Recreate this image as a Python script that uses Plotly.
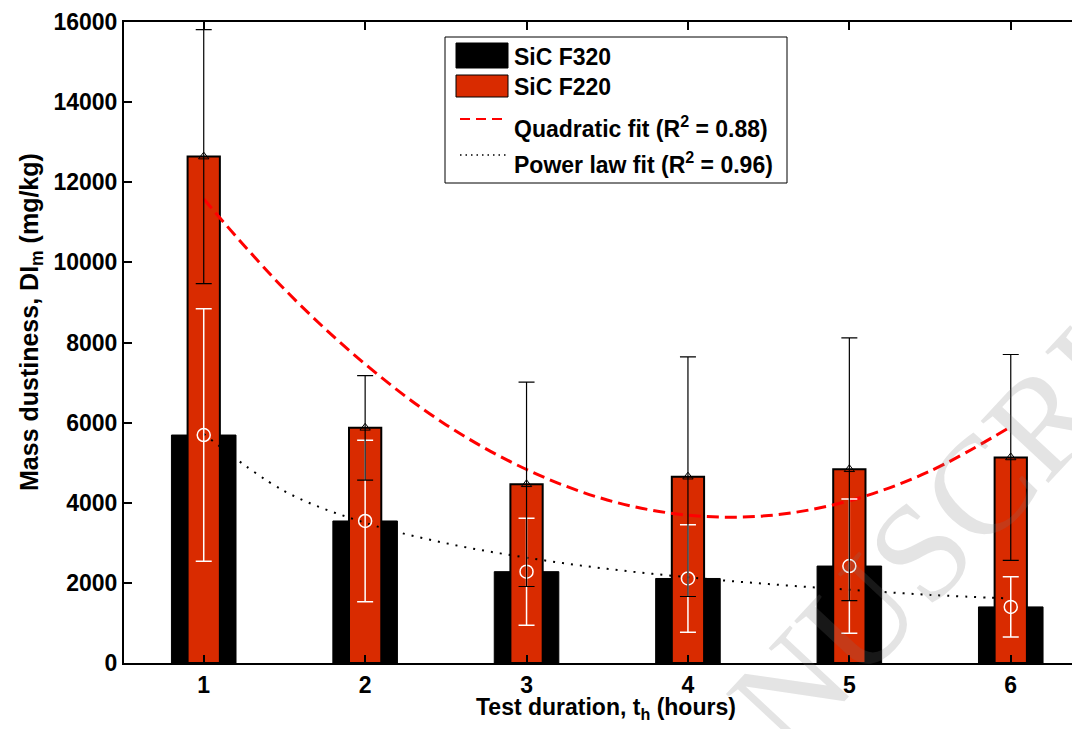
import plotly.graph_objects as go

# ---------------- data ----------------
hours = [1, 2, 3, 4, 5, 6]
f320 = [5690, 3545, 2280, 2110, 2420, 1400]
f320_err = [3150, 2015, 1335, 1340, 1675, 750]
f220 = [12640, 5870, 4460, 4650, 4835, 5130]
f220_err = [3170, 1305, 2550, 2990, 3280, 2570]

fit_x = [1, 1.5, 2, 2.5, 3, 3.5, 4, 4.5, 5, 5.5, 6]
quad_fit = [11580, 9330, 7460, 5950, 4830, 4070, 3690, 3680, 4050, 4790, 5900]
power_fit = [5720, 4290, 3500, 2990, 2630, 2350, 2140, 1970, 1830, 1700, 1610]

y_ticks = [0, 2000, 4000, 6000, 8000, 10000, 12000, 14000, 16000]
legend_labels = ["SiC F320", "SiC F220",
                 "Quadratic fit (R<sup>2</sup> = 0.88)",
                 "Power law fit (R<sup>2</sup> = 0.96)"]
x_title = "Test duration, t<sub>h</sub> (hours)"
y_title = "Mass dustiness, DI<sub>m</sub> (mg/kg)"

# ---------------- style ----------------
RED = "rgb(217,43,0)"
FONT = "Liberation Sans"
OFF = 8                      # browser body margin
W, H = 1072, 721             # figure reaches the window's right/bottom edges
PL, PT, PB_PAGE, PR_PAGE = 124, 22, 663, 1080   # plot area in page pixels
L, T = PL - OFF, PT - OFF
B = H - (PB_PAGE - OFF)
R = W - (PR_PAGE - OFF)
PW, PH = W - L - R, H - T - B


def px(x):
    return (x - PL) / PW


def py(y):
    return (PB_PAGE - y) / PH


fig = go.Figure()

fig.add_trace(go.Bar(x=hours, y=f320, width=0.4, marker=dict(color="black", line=dict(color="black", width=1)),
                     showlegend=False))
fig.add_trace(go.Bar(x=hours, y=f220, width=0.2, marker=dict(color=RED, line=dict(color="black", width=2)),
                     showlegend=False))

fig.add_trace(go.Scatter(x=fit_x, y=quad_fit, mode="lines",
                         line=dict(color="red", width=3, dash="12px,6px", shape="spline"), showlegend=False))
fig.add_trace(go.Scatter(x=fit_x, y=power_fit, mode="lines",
                         line=dict(color="black", width=2, dash="2px,7px", shape="spline"), showlegend=False))

fig.add_trace(go.Scatter(x=hours, y=f320, mode="markers",
                         marker=dict(symbol="circle-open", size=13, color="white", line=dict(width=1.5, color="white")),
                         error_y=dict(type="data", array=f320_err, color="white", thickness=1.5, width=8),
                         showlegend=False))
fig.add_trace(go.Scatter(x=hours, y=f220, mode="markers",
                         marker=dict(symbol="triangle-up-open", size=9, color="black", line=dict(width=1, color="black")),
                         error_y=dict(type="data", array=f220_err, color="black", thickness=1.2, width=8),
                         showlegend=False))

# ---------------- legend (drawn) ----------------
shapes = [
    dict(type="rect", xref="paper", yref="paper", x0=px(445), x1=px(787), y0=py(183), y1=py(37),
         line=dict(color="black", width=1), fillcolor="white", layer="above"),
    dict(type="rect", xref="paper", yref="paper", x0=px(456), x1=px(508), y0=py(68), y1=py(43),
         line=dict(color="black", width=1), fillcolor="black", layer="above"),
    dict(type="rect", xref="paper", yref="paper", x0=px(456), x1=px(508), y0=py(97), y1=py(75),
         line=dict(color="black", width=1), fillcolor=RED, layer="above"),
    dict(type="line", xref="paper", yref="paper", x0=px(460), x1=px(508), y0=py(119), y1=py(119),
         line=dict(color="red", width=2, dash="10px,6px"), layer="above"),
    dict(type="line", xref="paper", yref="paper", x0=px(460), x1=px(508), y0=py(155), y1=py(155),
         line=dict(color="black", width=1.5, dash="1.5px,4px"), layer="above"),
]
annotations = []
for lab, yc in zip(legend_labels, [57, 87, 127, 163]):
    annotations.append(dict(text=lab, xref="paper", yref="paper", x=px(512), y=py(yc),
                            xanchor="left", yanchor="middle", showarrow=False,
                            font=dict(family=FONT, size=23, color="black", weight="bold")))

# axis titles
annotations.append(dict(text=y_title, xref="paper", yref="paper", x=px(31), y=py(322),
                        xanchor="center", yanchor="middle", showarrow=False, textangle=-90,
                        font=dict(family=FONT, size=25, color="black", weight="bold")))
annotations.append(dict(text=x_title, xref="paper", yref="paper", x=px(606), y=py(708),
                        xanchor="center", yanchor="middle", showarrow=False,
                        font=dict(family=FONT, size=23, color="black", weight="bold")))

# watermark
annotations.append(dict(text="MANUSCRIPT", xref="paper", yref="paper", x=px(909), y=py(562),
                        xanchor="center", yanchor="middle", showarrow=False, textangle=-47,
                        font=dict(family="Liberation Serif", size=140, weight="normal",
                                  color="rgba(120,120,120,0.2)")))

fig.update_layout(
    width=W, height=H, margin=dict(l=L, r=R, t=T, b=B, pad=0, autoexpand=False),
    paper_bgcolor="white", plot_bgcolor="white",
    barmode="overlay", showlegend=False,
    font=dict(family=FONT, size=23, color="black", weight="bold"),
    shapes=shapes, annotations=annotations,
    xaxis=dict(range=[0.506, 6.429], tickvals=hours, ticks="inside", ticklen=8, tickwidth=1.5, tickcolor="black",
               showline=True, linewidth=2, linecolor="black", mirror="ticks", showgrid=False, zeroline=False,
               automargin=False,
               tickfont=dict(family=FONT, size=23, weight="bold")),
    yaxis=dict(range=[0, 16000], tickvals=y_ticks, tickformat="d", ticks="inside", ticklen=8, tickwidth=1.5,
               tickcolor="black", showline=True, linewidth=2, linecolor="black", showgrid=False, zeroline=False,
               automargin=False,
               tickfont=dict(family=FONT, size=23, weight="bold")),
)

fig.write_html("out.html")
